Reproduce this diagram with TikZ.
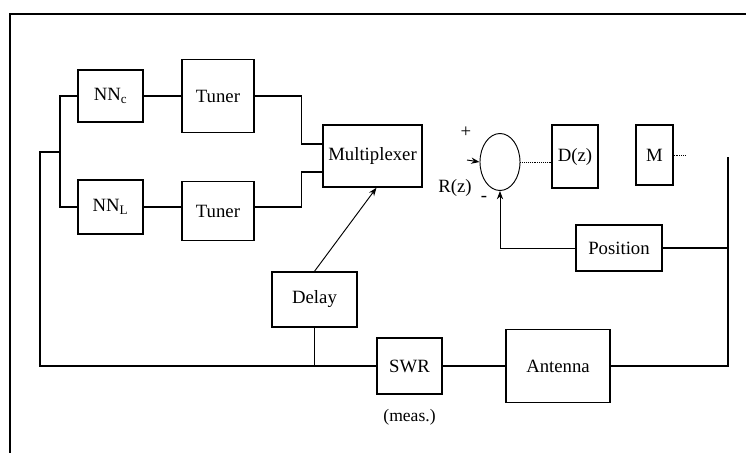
\documentclass[tikz,border=0pt]{standalone}
\usepackage{fontspec}
\setmainfont{Liberation Serif}
\usepackage{tikz}
\usetikzlibrary{shapes.geometric, arrows.meta, positioning, calc}

\begin{document}
\begin{tikzpicture}[
    x=0.03cm, y=-0.03cm,
    box/.style={rectangle, draw, line width=1.2pt, inner sep=0pt, align=center, font=\fontsize{16}{18}\selectfont},
    line/.style={line width=1pt},
    faint/.style={densely dotted, line width=0.6pt},
    arrow/.style={-{Stealth[length=2.5mm]}, line width=0.8pt}
]
\useasboundingbox (0,0) rectangle (746,453);

% Frame
\draw[line width=1.2pt] (10,453) -- (10,14) -- (746,14);

% Neural nets and tuners
\node[box, minimum width=65*0.03cm, minimum height=52*0.03cm] (nnc) at (110.5,96) {NN$_\mathrm{c}$};
\node[box, minimum width=72*0.03cm, minimum height=73*0.03cm] (tunc) at (218,96) {Tuner};
\node[box, minimum width=65*0.03cm, minimum height=54*0.03cm] (nnl) at (110.5,207) {NN$_\mathrm{L}$};
\node[box, minimum width=72*0.03cm, minimum height=59*0.03cm] (tunl) at (218,211) {Tuner};
\node[box, minimum width=99*0.03cm, minimum height=62*0.03cm] (mux) at (372.5,156) {Multiplexer};
\node[box, minimum width=85*0.03cm, minimum height=55*0.03cm] (delay) at (314.5,299.5) {Delay};

% Control loop
\node[draw, ellipse, line width=0.8pt, minimum width=40*0.03cm, minimum height=57*0.03cm] (sum) at (500,162) {};
\node[box, minimum width=46*0.03cm, minimum height=63*0.03cm] (dz) at (575,156.5) {D(z)};
\node[box, minimum width=37*0.03cm, minimum height=60*0.03cm] (m) at (654.5,155) {M};
\node[box, minimum width=86*0.03cm, minimum height=46*0.03cm] (pos) at (619,248) {Position};

% Measurement path
\node[box, minimum width=65*0.03cm, minimum height=56*0.03cm] (swr) at (409.5,366) {SWR};
\node[box, minimum width=104*0.03cm, minimum height=73*0.03cm] (ant) at (558,366) {Antenna};
\node[below=0.3cm of swr, font=\fontsize{15}{17}\selectfont] (meas) {(meas.)};

% Signs
\coordinate (rin) at (467,160);
\coordinate (mout) at (686,155);
\node[font=\fontsize{16}{18}\selectfont] (plus) at (466,132) {+};
\node[font=\fontsize{16}{18}\selectfont] (rz) at (455,188) {R(z)};
\node[font=\fontsize{16}{18}\selectfont] (minus) at (484,199) {-};

% Connectors
\coordinate (split) at (60,152);
\coordinate (fb) at (40,366);
\coordinate (rc) at (728,157);
\draw[line] (nnc.west) -| (split) |- (nnl.west);
\draw[line] (split) -- (split -| fb) -- (fb) -- (swr.west);
\draw[line] (nnc.east) -- (nnc.east -| tunc.west);
\draw[line] (nnl.east) -- (nnl.east -| tunl.west);
\draw[line] (tunc.east) -| ($(mux.west)+(-21,-12)$) -- ($(mux.west)+(0,-12)$);
\draw[line] (tunl.east |- nnl.east) -| ($(mux.west)+(-21,16)$) -- ($(mux.west)+(0,16)$);
\draw[arrow] (delay.north) -- ($(mux.south)+(4,0)$);
\draw[line, line width=0.6pt] (delay.south) -- (delay.south |- fb);
\draw[line] (swr.east) -- (ant.west);
\draw[line] (ant.east) -| (rc);
\draw[line] (pos.east) -- (pos.east -| rc);
\draw[arrow] (pos.west) -| (sum.south);
\draw[arrow] (rin) -- (sum.west);
\draw[faint] (sum.east) -- (sum.east -| dz.west);
\draw[faint] (m.east) -- (mout);

\end{tikzpicture}
\end{document}
